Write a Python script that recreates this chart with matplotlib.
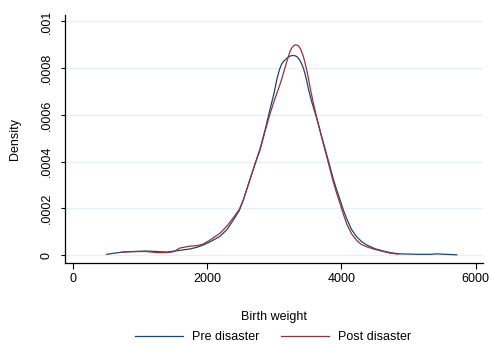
import matplotlib
matplotlib.use('Agg')
import matplotlib.pyplot as plt

plt.rcParams['font.family'] = ['Liberation Sans', 'DejaVu Sans']

# -----------------------------
# Kernel density estimates (birth weight, grams)
# densities are in units of 1e-4
# -----------------------------
pre_x = [506, 620, 754, 900, 1100, 1250, 1400, 1598, 1747, 1850, 1945, 2050,
         2193, 2300, 2392, 2480, 2541, 2641, 2715, 2790, 2864, 2939, 3000,
         3038, 3080, 3112, 3150, 3187, 3225, 3261, 3300, 3336, 3375, 3410,
         3435, 3460, 3485, 3509, 3560, 3634, 3700, 3758, 3820, 3881, 3930,
         3981, 4030, 4081, 4150, 4230, 4300, 4379, 4500, 4626, 4750, 4875,
         5000, 5150, 5321, 5420, 5550, 5718]
pre_y = [0.03, 0.08, 0.13, 0.15, 0.17, 0.15, 0.13, 0.20, 0.26, 0.33, 0.43, 0.57,
         0.80, 1.10, 1.50, 1.90, 2.36, 3.25, 3.90, 4.55, 5.35, 6.25, 6.95,
         7.50, 7.95, 8.18, 8.32, 8.42, 8.50, 8.54, 8.54, 8.50, 8.38, 8.18,
         8.00, 7.75, 7.45, 7.12, 6.55, 5.85, 5.15, 4.55, 3.90, 3.25, 2.80,
         2.36, 1.93, 1.55, 1.10, 0.78, 0.58, 0.43, 0.27, 0.17, 0.09, 0.05,
         0.04, 0.03, 0.03, 0.05, 0.03, 0.01]

post_x = [730, 850, 1000, 1100, 1251, 1400, 1500, 1598, 1747, 1850, 1945, 2050,
          2193, 2300, 2392, 2480, 2541, 2641, 2715, 2790, 2864, 2939, 3000,
          3062, 3100, 3137, 3175, 3211, 3240, 3261, 3290, 3321, 3355, 3385,
          3410, 3435, 3460, 3485, 3509, 3534, 3580, 3634, 3700, 3758, 3820,
          3881, 3930, 3981, 4030, 4081, 4150, 4230, 4300, 4379, 4500, 4626,
          4726, 4847]
post_y = [0.12, 0.14, 0.15, 0.15, 0.10, 0.10, 0.14, 0.30, 0.38, 0.40, 0.47, 0.65,
          0.93, 1.25, 1.60, 1.95, 2.36, 3.25, 3.90, 4.50, 5.30, 6.05, 6.60,
          7.10, 7.42, 7.78, 8.15, 8.50, 8.75, 8.86, 8.96, 9.00, 8.97, 8.86,
          8.70, 8.50, 8.22, 7.92, 7.58, 7.18, 6.55, 5.88, 5.12, 4.48, 3.80,
          3.12, 2.65, 2.20, 1.75, 1.33, 0.92, 0.62, 0.45, 0.35, 0.24, 0.15,
          0.08, 0.04]

y_ticks = [0, 0.0002, 0.0004, 0.0006, 0.0008, 0.001]
y_tick_labels = ['0', '.0002', '.0004', '.0006', '.0008', '.001']
x_ticks = [0, 2000, 4000, 6000]

NAVY = '#1a476f'
MAROON = '#90353b'
GRID = '#e6eff2'

fig = plt.figure(figsize=(4.91, 3.45), dpi=100)
ax = fig.add_axes([0.1324, 0.2368, 0.8513, 0.7206])

ax.plot(pre_x, [v * 1e-4 for v in pre_y], color=NAVY, lw=0.9, label='Pre disaster')
ax.plot(post_x, [v * 1e-4 for v in post_y], color=MAROON, lw=0.9, label='Post disaster')

ax.set_xlim(-115, 6110)
ax.set_ylim(-0.0000355, 0.001029)

ax.set_yticks(y_ticks)
ax.set_yticklabels(y_tick_labels, rotation=90, va='center')
ax.set_xticks(x_ticks)

ax.grid(axis='y', color=GRID, lw=0.9)
ax.set_axisbelow(True)
for s in ('top', 'right'):
    ax.spines[s].set_visible(False)
for s in ('left', 'bottom'):
    ax.spines[s].set_linewidth(0.9)
    ax.spines[s].set_color('black')

ax.tick_params(axis='y', direction='out', length=3, width=0.8, pad=6, labelsize=9)
ax.tick_params(axis='x', direction='out', length=4, width=0.8, pad=3, labelsize=9)

ax.set_xlabel('Birth weight', fontsize=9, labelpad=19)
ax.set_ylabel('Density', fontsize=9, labelpad=14)

fig.legend(loc='center', bbox_to_anchor=(273 / 491, 1 - 337 / 345), ncol=2,
           frameon=False, fontsize=9, handlelength=3.8, handletextpad=0.7,
           columnspacing=1.8)

fig.savefig('out.png', dpi=100, facecolor='white')
